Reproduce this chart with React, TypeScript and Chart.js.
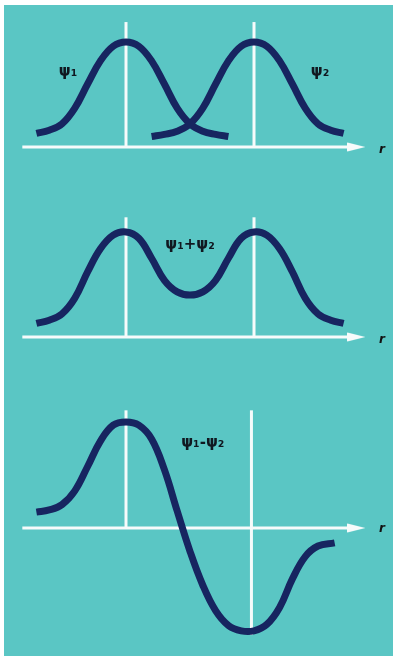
import React, { useEffect, useRef } from "react";
import { Chart, registerables } from "chart.js";

Chart.register(...registerables);

// ---- Data (r in units of internuclear distance, psi normalized to peak = 1) ----
const R_PSI1 = [-0.7, -0.6, -0.5, -0.4, -0.3, -0.2, -0.1, 0, 0.1, 0.2, 0.3, 0.4, 0.5, 0.6, 0.7, 0.8];
const PSI1 = [0.13, 0.16, 0.22, 0.37, 0.6, 0.82, 0.96, 1, 0.96, 0.82, 0.6, 0.37, 0.22, 0.15, 0.12, 0.1];

const R_PSI2 = [0.2, 0.3, 0.4, 0.5, 0.6, 0.7, 0.8, 0.9, 1.0, 1.1, 1.2, 1.3, 1.4, 1.5, 1.6, 1.7];
const PSI2 = [0.1, 0.12, 0.15, 0.22, 0.37, 0.6, 0.82, 0.96, 1, 0.96, 0.82, 0.6, 0.37, 0.22, 0.16, 0.13];

const R_SUM = [-0.7, -0.6, -0.5, -0.4, -0.3, -0.2, -0.1, 0, 0.1, 0.2, 0.3, 0.4, 0.5, 0.6, 0.7, 0.8, 0.9, 1.0, 1.1, 1.2, 1.3, 1.4, 1.5, 1.6, 1.7];
const PSI_SUM = [0.13, 0.16, 0.22, 0.37, 0.62, 0.84, 0.97, 1, 0.94, 0.75, 0.54, 0.43, 0.4, 0.43, 0.54, 0.75, 0.94, 1, 0.97, 0.84, 0.62, 0.37, 0.22, 0.16, 0.13];

const R_DIFF = [-0.7, -0.6, -0.5, -0.4, -0.3, -0.2, -0.1, 0, 0.1, 0.2, 0.3, 0.4, 0.5, 0.6, 0.7, 0.8, 0.9, 1.0, 1.1, 1.2, 1.3, 1.4, 1.5, 1.63];
const PSI_DIFF = [0.15, 0.17, 0.22, 0.35, 0.58, 0.82, 0.97, 1, 0.97, 0.84, 0.55, 0.16, -0.22, -0.54, -0.78, -0.92, -0.97, -0.97, -0.91, -0.75, -0.48, -0.27, -0.17, -0.14];

// axis extents
const AXIS_R = [-0.81, 1.78];
const ARROW_R = 1.8;
const NUCLEI_R = [0, 1];
const NUCLEI_TOP_1 = 1.19;
const NUCLEI_TOP_2 = 1.14;
const NUCLEI_TOP_3 = 1.11;
const NUCLEUS2_BOTTOM_3 = -1.01;

// labels
const LABELS_1 = [
  { text: "ψ₁", r: -0.453, v: 0.714 },
  { text: "ψ₂", r: 1.516, v: 0.714 },
];
const LABELS_2 = [{ text: "ψ₁+ψ₂", r: 0.5, v: 0.876 }];
const LABELS_3 = [{ text: "ψ₁-ψ₂", r: 0.6, v: 0.8 }];
const AXIS_LABEL = "r";

const CURVE = "#172560";
const AXIS = "#f6fbfb";
const BG = "#5ac6c4";

const zip = (xs: number[], ys: number[]) => xs.map((x, i) => ({ x, y: ys[i] }));

function arrowCanvas() {
  const c = document.createElement("canvas");
  c.width = 18;
  c.height = 10;
  const ctx = c.getContext("2d")!;
  ctx.fillStyle = AXIS;
  ctx.beginPath();
  ctx.moveTo(0, 0.5);
  ctx.lineTo(18, 5);
  ctx.lineTo(0, 9.5);
  ctx.closePath();
  ctx.fill();
  return c;
}

const textPlugin = {
  id: "textLabels",
  afterDatasetsDraw(chart: any, _args: any, opts: any) {
    const { ctx, scales } = chart;
    ctx.save();
    ctx.textAlign = "center";
    ctx.textBaseline = "middle";
    (opts.items || []).forEach((it: any) => {
      ctx.font = it.font;
      ctx.fillStyle = it.color;
      ctx.fillText(it.text, scales.x.getPixelForValue(it.r), scales.y.getPixelForValue(it.v));
    });
    ctx.restore();
  },
};

type Panel = {
  curves: { x: number; y: number }[][];
  verticals: { x: number; y: number }[][];
  labels: { text: string; r: number; v: number }[];
  rLabelV: number;
  yMin: number;
  yMax: number;
};

function makeChart(canvas: HTMLCanvasElement, p: Panel) {
  const arrow = arrowCanvas();
  const datasets: any[] = [];
  p.curves.forEach((c) =>
    datasets.push({
      data: c,
      borderColor: CURVE,
      borderWidth: 7,
      borderCapStyle: "butt",
      pointRadius: 0,
      tension: 0.4,
      fill: false,
    })
  );
  p.verticals.forEach((v) =>
    datasets.push({ data: v, borderColor: AXIS, borderWidth: 3, pointRadius: 0, fill: false })
  );
  datasets.push({
    data: [
      { x: AXIS_R[0], y: 0 },
      { x: AXIS_R[1], y: 0 },
    ],
    borderColor: AXIS,
    borderWidth: 3,
    pointRadius: 0,
    fill: false,
  });
  datasets.push({
    data: [{ x: ARROW_R, y: 0 }],
    showLine: false,
    pointStyle: arrow,
    pointRadius: 8,
  });
  const items = [
    ...p.labels.map((l) => ({ ...l, font: "bold 15px 'DejaVu Sans'", color: "#101820" })),
    { text: AXIS_LABEL, r: 2.0, v: p.rLabelV, font: "italic bold 12px 'DejaVu Sans'", color: "#111" },
  ];
  return new Chart(canvas, {
    type: "line",
    data: { datasets },
    plugins: [textPlugin],
    options: {
      animation: false,
      responsive: false,
      layout: { padding: 0, autoPadding: false },
      events: [],
      scales: {
        x: { type: "linear", min: -0.984375, max: 2.0859, display: false },
        y: { type: "linear", min: p.yMin, max: p.yMax, display: false },
      },
      plugins: {
        legend: { display: false },
        tooltip: { enabled: false },
        textLabels: { items },
      } as any,
    },
  });
}

function PanelChart({ top, height, panel }: { top: number; height: number; panel: Panel }) {
  const ref = useRef<HTMLCanvasElement>(null);
  useEffect(() => {
    const ch = makeChart(ref.current!, panel);
    return () => ch.destroy();
  }, []);
  return (
    <canvas
      ref={ref}
      width={393}
      height={height}
      style={{ position: "absolute", left: 0, top, width: 393, height }}
    />
  );
}

export default function App() {
  const v = (x: number, y0: number, y1: number) => [
    { x, y: y0 },
    { x, y: y1 },
  ];
  const p1: Panel = {
    curves: [zip(R_PSI1, PSI1), zip(R_PSI2, PSI2)],
    verticals: [v(NUCLEI_R[0], 0, NUCLEI_TOP_1), v(NUCLEI_R[1], 0, NUCLEI_TOP_1)],
    labels: LABELS_1,
    rLabelV: -0.03,
    yMin: -43 / 105,
    yMax: 147 / 105,
  };
  const p2: Panel = {
    curves: [zip(R_SUM, PSI_SUM)],
    verticals: [v(NUCLEI_R[0], 0, NUCLEI_TOP_2), v(NUCLEI_R[1], 0, NUCLEI_TOP_2)],
    labels: LABELS_2,
    rLabelV: -0.03,
    yMin: -33 / 105,
    yMax: 147 / 105,
  };
  const p3: Panel = {
    curves: [zip(R_DIFF, PSI_DIFF)],
    verticals: [v(NUCLEI_R[0], 0, NUCLEI_TOP_3), v(0.98, NUCLEUS2_BOTTOM_3, NUCLEI_TOP_3)],
    labels: LABELS_3,
    rLabelV: -0.01,
    yMin: -128 / 106,
    yMax: 158 / 106,
  };
  return (
    <div style={{ position: "fixed", left: 0, top: 0, width: 393, height: 656, background: "#ffffff", overflow: "hidden" }}>
      <div style={{ position: "absolute", left: 4, top: 5, right: 0, bottom: 0, background: BG }} />
      <PanelChart top={0} height={190} panel={p1} />
      <PanelChart top={190} height={180} panel={p2} />
      <PanelChart top={370} height={286} panel={p3} />
    </div>
  );
}
